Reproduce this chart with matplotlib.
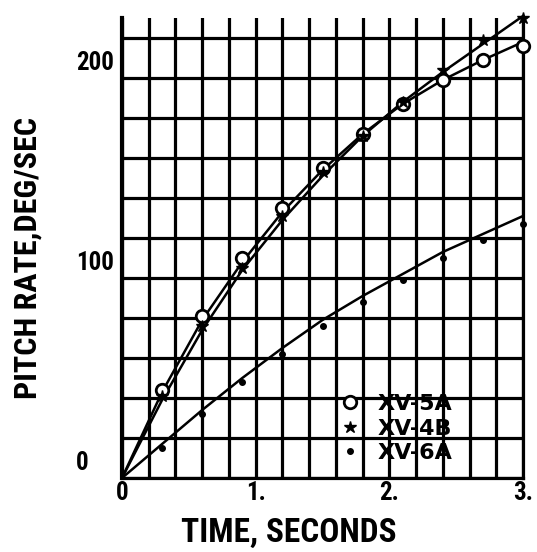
import numpy as np
import matplotlib
matplotlib.use('Agg')
import matplotlib.pyplot as plt
from matplotlib import font_manager
from matplotlib.lines import Line2D
from matplotlib.transforms import offset_copy

# pick a narrow sans if one is around, else condensed DejaVu
have = {f.name for f in font_manager.fontManager.ttflist}
narrow = [n for n in ['Liberation Sans Narrow', 'Roboto Condensed', 'DejaVu Sans Condensed']
          if n in have]
plt.rcParams['font.family'] = narrow + ['DejaVu Sans']
plt.rcParams['font.stretch'] = 'condensed'
plt.rcParams['font.weight'] = 'bold'

# measured points, every 0.3 sec
t_pts = [0.3, 0.6, 0.9, 1.2, 1.5, 1.8, 2.1, 2.4, 2.7, 3.0]
xv5a = [44, 81, 110, 135, 155, 172, 187, 199, 209, 216]
xv4b = [41, 76, 105, 131, 153, 171, 188, 204, 219, 230]
xv6a = [15, 32, 48, 62, 76, 88, 99, 110, 119, 127]

# faired curves
t_fit = [0, 0.3, 0.6, 0.9, 1.2, 1.5, 1.8, 2.1, 2.4, 2.7, 3.0]
fit_5a = [0, 43, 79, 108, 133, 154, 172, 187, 199, 209, 218]
fit_4b = [0, 39, 74, 104, 129, 151, 171, 188, 203, 217, 231]
fit_6a = [0, 17, 34, 50, 65, 79, 91, 102, 113, 122, 131]

x_labels = {0: '0', 1: '1.', 2: '2.', 3: '3.'}
y_labels = {0: '0', 100: '100', 200: '200'}

fig = plt.figure(figsize=(5.37, 5.52), dpi=100)
ax = fig.add_axes([122/537, 74/552, 401/537, 460/552])

ax.set_xlim(0, 3)
ax.set_ylim(0, 230)
ax.set_xticks(np.arange(0, 3.01, 0.2))
ax.set_yticks(np.arange(0, 221, 20))
ax.set_xticklabels([])
ax.set_yticklabels([])
ax.tick_params(length=0)
ax.grid(True, color='black', linewidth=2.3)
ax.set_axisbelow(True)
for side in ['left', 'bottom', 'right']:
    ax.spines[side].set_linewidth(2.3)
ax.spines['left'].set_linewidth(3)
ax.spines['top'].set_visible(False)

lw = 1.8
ax.plot(t_fit, fit_5a, color='black', lw=lw, zorder=3, clip_on=False)
ax.plot(t_fit, fit_4b, color='black', lw=lw, zorder=3, clip_on=False)
ax.plot(t_fit, fit_6a, color='black', lw=lw, zorder=3)
ax.plot(t_pts, xv5a, 'o', ms=9, mfc='white', mec='black', mew=2, zorder=4, clip_on=False)
ax.plot(t_pts, xv4b, '*', ms=9, color='black', zorder=5, clip_on=False)
ax.plot(t_pts, xv6a, 'o', ms=4, color='black', zorder=4, clip_on=False)

# tick labels
xtr = offset_copy(ax.get_xaxis_transform(), fig=fig, y=-15, units='dots')
for v, s in x_labels.items():
    ax.text(v, 0, s, transform=xtr, ha='center', va='center', fontsize=18)
ytr = offset_copy(ax.get_yaxis_transform(), fig=fig, y=15, units='dots')
for v, s in y_labels.items():
    ax.text(-46/401, v, s, transform=ytr, ha='left', va='center', fontsize=18)

handles = [
    Line2D([], [], ls='none', marker='o', ms=9, mfc='white', mec='black', mew=2),
    Line2D([], [], ls='none', marker='*', ms=9, color='black'),
    Line2D([], [], ls='none', marker='o', ms=4, color='black'),
]
ax.legend(handles, ['XV-5A', 'XV-4B', 'XV-6A'], loc='lower left',
          bbox_to_anchor=(1.638, 7.5), bbox_transform=ax.transData,
          frameon=False,
          prop={'family': 'DejaVu Sans', 'weight': 'bold', 'size': 16, 'stretch': 'normal'},
          handlelength=0.8, handletextpad=0.85,
          labelspacing=0.2, borderpad=0, borderaxespad=0)

fig.text(289/537, 1 - 533/552, 'TIME, SECONDS', ha='center', va='center', fontsize=24)
fig.text(28/537, 1 - 258/552, 'PITCH RATE,DEG/SEC', ha='center', va='center',
         rotation=90, fontsize=23)

fig.savefig('out.png', dpi=100)
